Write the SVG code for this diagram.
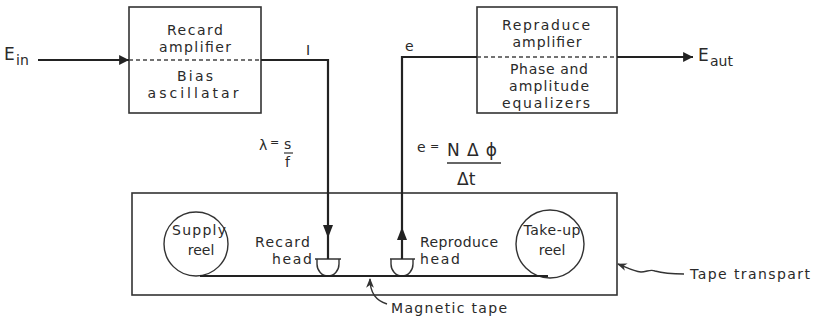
<svg xmlns="http://www.w3.org/2000/svg" width="821" height="321" viewBox="0 0 821 321">
<style>
text{font-family:"DejaVu Sans","Liberation Sans",sans-serif;font-size:14px;fill:#2a2a2a}
.big{font-size:17px}
.sm{font-size:11px}
.box{fill:none;stroke:#333;stroke-width:1.6}
.dash{fill:none;stroke:#444;stroke-width:1.4;stroke-dasharray:4 3}
.sig{fill:none;stroke:#222;stroke-width:2.2}
.thin{fill:none;stroke:#333;stroke-width:1.4}
.ah{fill:#222}
.m{text-anchor:middle}
</style>
<defs>
<marker id="arr" viewBox="0 0 10 10" refX="10" refY="5" markerWidth="5" markerHeight="4.5" orient="auto" markerUnits="strokeWidth">
<path d="M0,0 L10,5 L0,10 z" fill="#222"/>
</marker>
<marker id="barb" viewBox="0 0 10 10" refX="9" refY="5" markerWidth="7" markerHeight="7" orient="auto" markerUnits="strokeWidth">
<path d="M0,1 L10,5 L0,9 L3,5 z" fill="#333"/>
</marker>
</defs>

<g id="record-block">
<rect class="box" x="129" y="7" width="132" height="106"/>
<line class="dash" x1="129" y1="60" x2="261" y2="60"/>
<text class="m" x="195" y="35" textLength="56" lengthAdjust="spacing">Recard</text>
<text class="m" x="195" y="52" textLength="72" lengthAdjust="spacing">amplifier</text>
<text class="m" x="195" y="81" textLength="36" lengthAdjust="spacing">Bias</text>
<text class="m" x="193" y="98" textLength="91" lengthAdjust="spacing">ascillatar</text>
</g>

<g id="reproduce-block">
<rect class="box" x="477" y="7" width="140" height="106"/>
<line class="dash" x1="477" y1="57" x2="617" y2="57"/>
<text class="m" x="546" y="30" textLength="88" lengthAdjust="spacing">Repraduce</text>
<text class="m" x="547" y="47" textLength="69" lengthAdjust="spacing">amplifier</text>
<text class="m" x="549" y="74" textLength="78" lengthAdjust="spacing">Phase and</text>
<text class="m" x="549" y="91" textLength="80" lengthAdjust="spacing">amplitude</text>
<text class="m" x="546" y="108" textLength="88" lengthAdjust="spacing">equalizers</text>
</g>

<g id="tape-transport">
<rect class="box" x="132" y="193" width="485" height="102"/>
</g>

<g id="supply-reel">
<circle class="thin" cx="196" cy="244" r="32"/>
<text class="m" x="199" y="235" textLength="54" lengthAdjust="spacing">Supply</text>
<text class="m" x="201" y="255">reel</text>
</g>

<g id="takeup-reel">
<circle class="thin" cx="550" cy="244" r="34"/>
<text class="m" x="552" y="235" textLength="57" lengthAdjust="spacing">Take-up</text>
<text class="m" x="552" y="255">reel</text>
</g>

<g id="record-head">
<path class="thin" d="M315,259 H341 M317,259 V264 A11,12 0 0 0 339,264 V259" stroke-width="1.8"/>
<text x="310" y="247" text-anchor="end" textLength="55" lengthAdjust="spacing">Recard</text>
<text x="312" y="264" text-anchor="end" textLength="40" lengthAdjust="spacing">head</text>
</g>

<g id="reproduce-head">
<path class="thin" d="M390,259 H415 M391,259 V264 A11,12 0 0 0 413,264 V259" stroke-width="1.8"/>
<text x="420" y="247" textLength="78" lengthAdjust="spacing">Reproduce</text>
<text x="420" y="264" textLength="40" lengthAdjust="spacing">head</text>
</g>

<g id="connectors">
<line class="sig" x1="38" y1="60" x2="129" y2="60" marker-end="url(#arr)"/>
<path class="sig" d="M261,60 H328 V259"/>
<path class="ah" d="M323,225 L333,225 L328,238 z"/>
<path class="sig" d="M402,259 V57 H477"/>
<path class="ah" d="M397,240 L407,240 L402,227 z"/>
<line class="sig" x1="617" y1="57" x2="693" y2="57" marker-end="url(#arr)"/>
<path class="sig" d="M200,276 H548" stroke-width="2"/>
<path class="thin" d="M387,304 C377,301 370,293 370,279" marker-end="url(#barb)"/>
<path class="thin" d="M684,274 C672,274 662,273 655,271 C650,269 647,272 641,272 C633,271 626,267 618,264" marker-end="url(#barb)"/>
</g>

<g id="labels">
<text class="big" x="4" y="60">E</text>
<text x="16" y="65">in</text>
<text class="big" x="698" y="61">E</text>
<text x="710" y="66">aut</text>
<text x="306" y="55">I</text>
<text x="405" y="51">e</text>
<text x="259" y="150">λ</text>
<text class="sm" x="270" y="146">=</text>
<text x="284" y="149">s</text>
<line x1="284" y1="153" x2="293" y2="153" stroke="#333" stroke-width="1.2"/>
<text x="285" y="167">f</text>
<text x="417" y="152">e</text>
<text class="sm" x="430" y="150">=</text>
<text class="big" x="447" y="156" textLength="50" lengthAdjust="spacing">NΔϕ</text>
<line x1="447" y1="163" x2="501" y2="163" stroke="#333" stroke-width="1.3"/>
<text class="big" x="457" y="185">Δt</text>
<text x="391" y="313" textLength="116" lengthAdjust="spacing">Magnetic tape</text>
<text x="690" y="279" textLength="120" lengthAdjust="spacing">Tape transpart</text>
</g>
</svg>
